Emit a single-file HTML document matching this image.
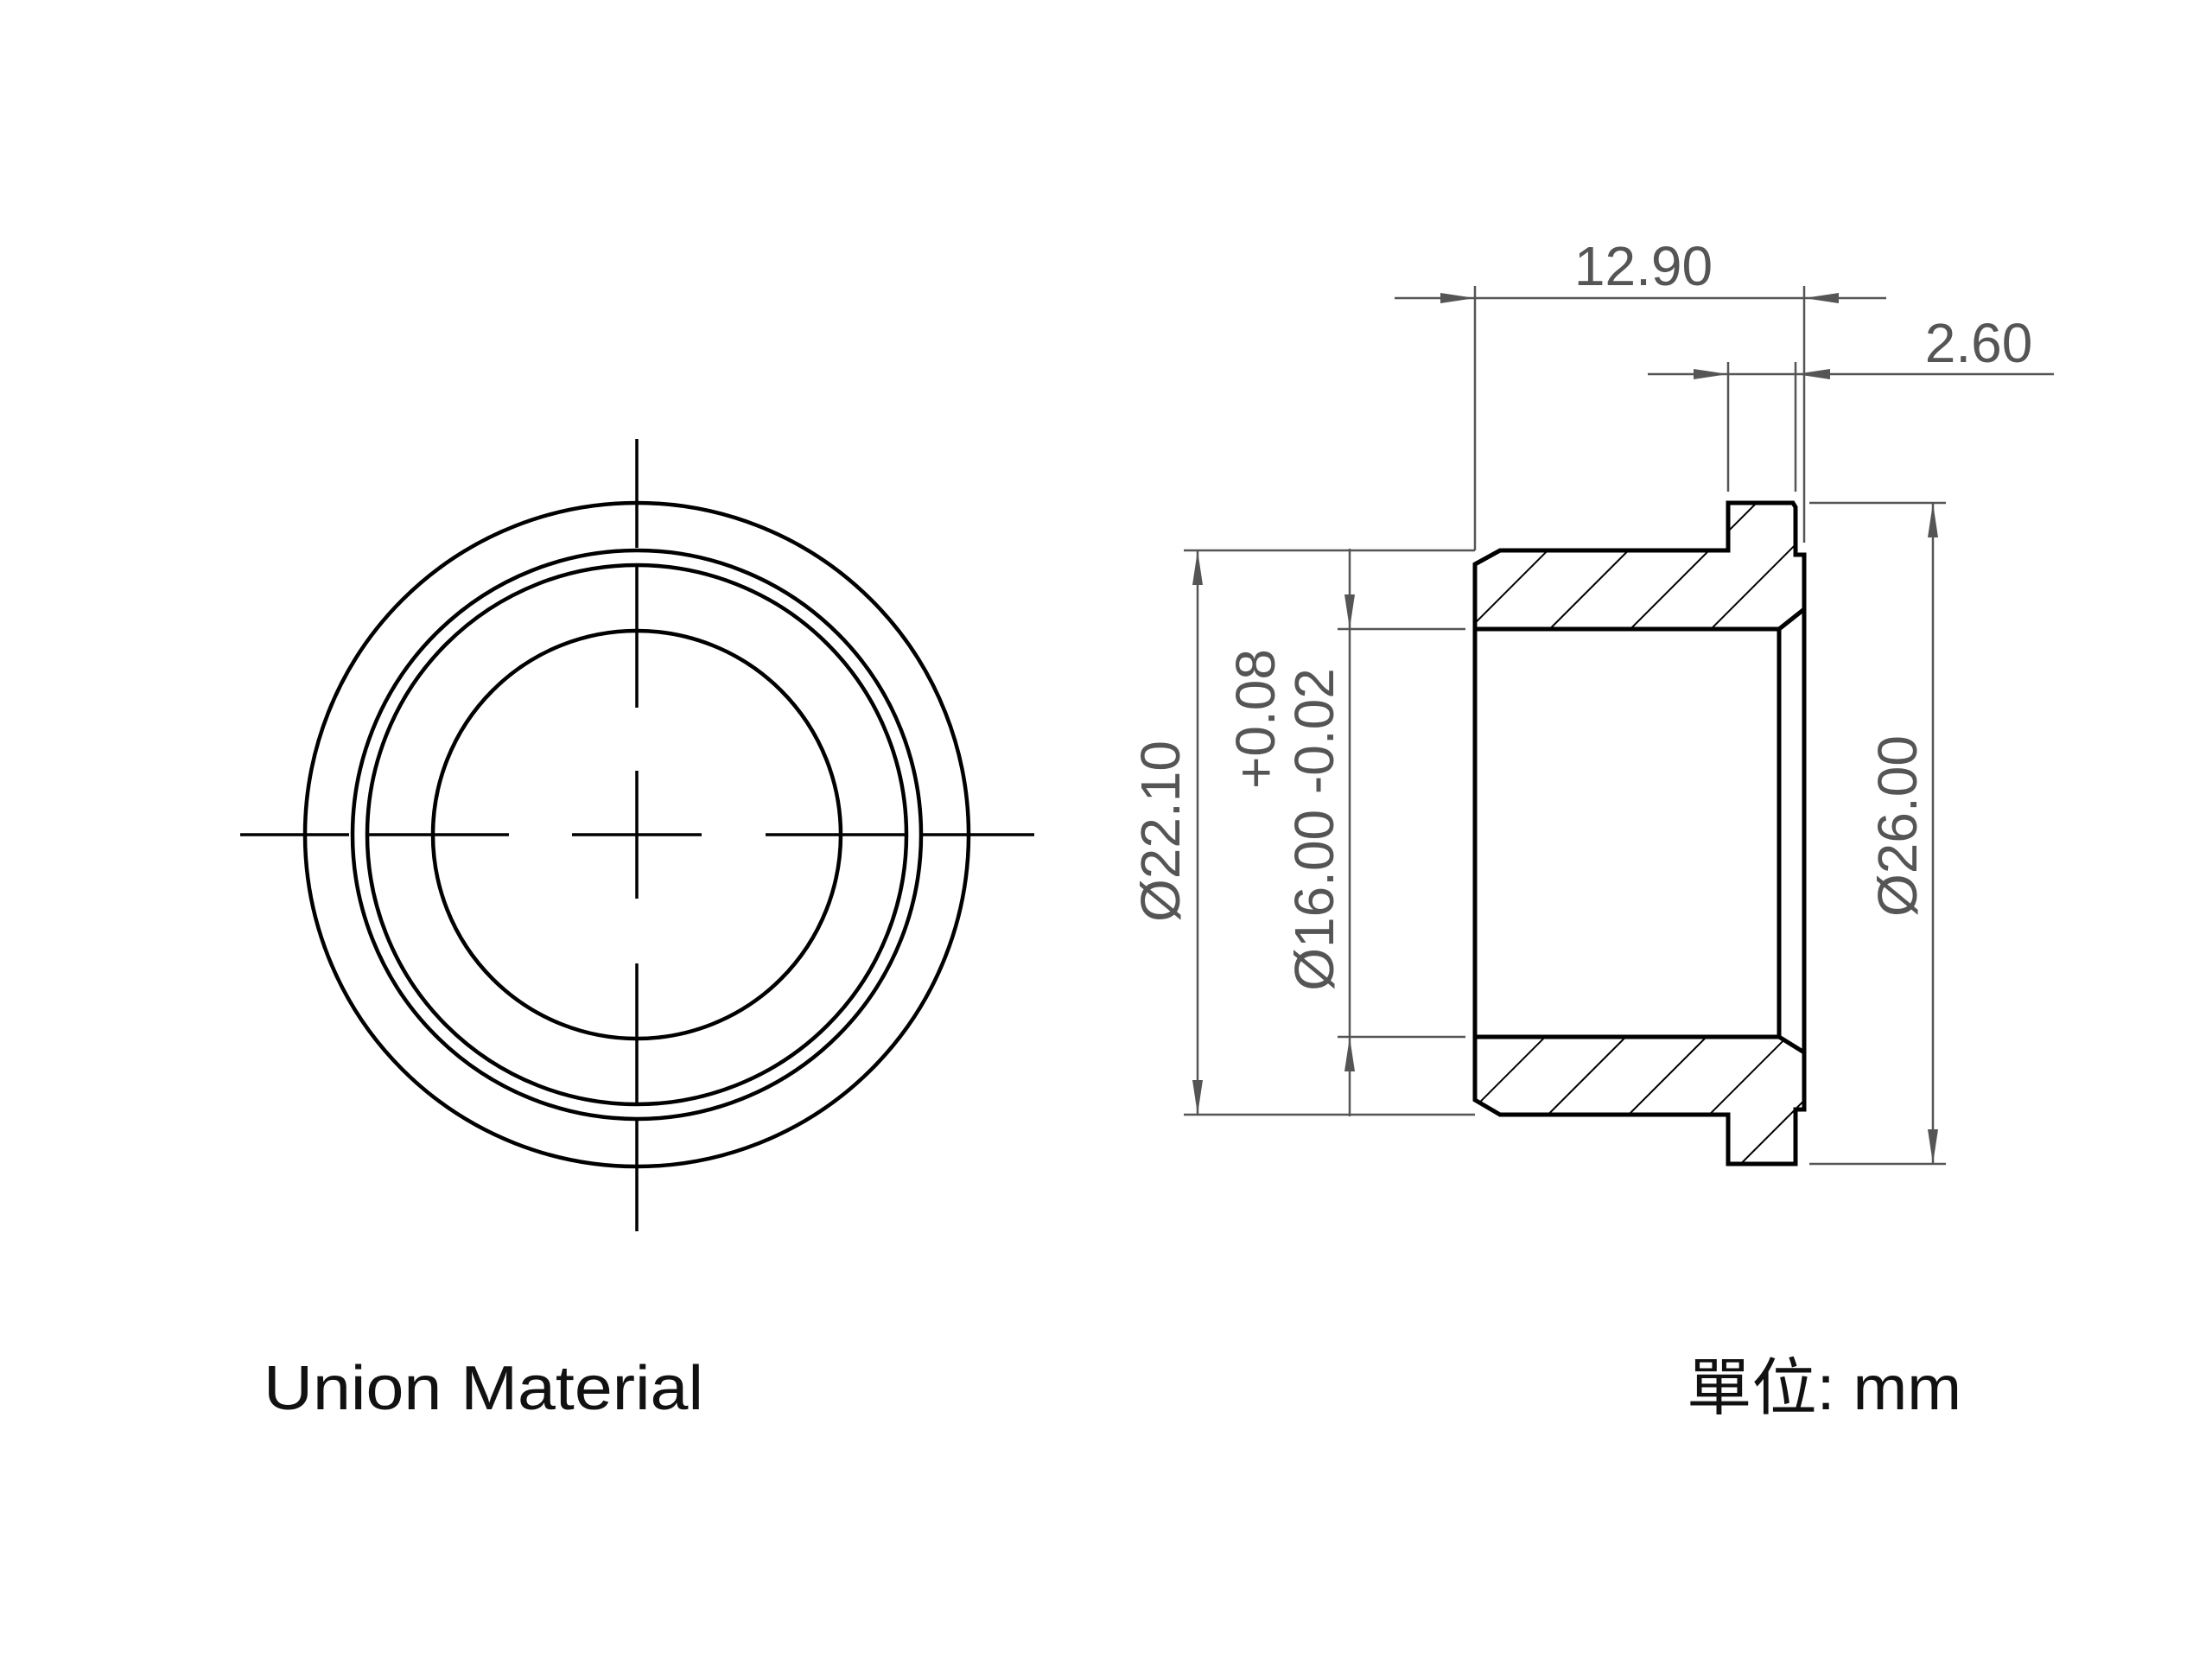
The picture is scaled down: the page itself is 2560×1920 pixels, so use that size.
<!DOCTYPE html>
<html><head><meta charset="utf-8"><style>html,body{margin:0;padding:0;background:#fff}svg{display:block}</style></head>
<body>
<svg width="2560" height="1920" viewBox="0 0 2560 1920" xmlns="http://www.w3.org/2000/svg">
<defs>
<pattern id="h" patternUnits="userSpaceOnUse" width="66" height="66" patternTransform="rotate(45)">
<line x1="0" y1="0" x2="0" y2="66" stroke="#000" stroke-width="4"/>
</pattern>
</defs>
<rect width="2560" height="1920" fill="#fff"/>
<!-- front view -->
<g fill="none" stroke="#000" stroke-width="4.5">
<circle cx="737" cy="966" r="384"/>
<circle cx="737" cy="966" r="329"/>
<circle cx="737" cy="966" r="312"/>
<circle cx="737" cy="966" r="236"/>
</g>
<g stroke="#000" stroke-width="3.5">
<line x1="278" y1="966" x2="404" y2="966"/><line x1="426" y1="966" x2="589" y2="966"/>
<line x1="662" y1="966" x2="812" y2="966"/><line x1="886" y1="966" x2="1048" y2="966"/>
<line x1="1067" y1="966" x2="1197" y2="966"/>
<line x1="737" y1="508" x2="737" y2="634"/><line x1="737" y1="656" x2="737" y2="819"/>
<line x1="737" y1="892" x2="737" y2="1040"/><line x1="737" y1="1115" x2="737" y2="1277"/>
<line x1="737" y1="1296" x2="737" y2="1425"/>
</g>
<!-- section hatch -->
<path d="M1707,653 L1736,637 L2000,637 L2000,582 L2075,582 L2078,587 L2078,642 L2088,642 L2088,705 L2059,728 L1707,728 Z" fill="url(#h)"/>
<path d="M1707,1200 L2059,1200 L2088,1218 L2088,1284 L2078,1284 L2078,1347 L2000,1347 L2000,1290 L1736,1290 L1707,1273 Z" fill="url(#h)"/>
<g fill="none" stroke="#000" stroke-width="5" stroke-linejoin="miter">
<path d="M1707,653 L1736,637 L2000,637 L2000,582 L2075,582 L2078,587 L2078,642 L2088,642 L2088,1284 L2078,1284 L2078,1347 L2000,1347 L2000,1290 L1736,1290 L1707,1273 Z"/>
<path d="M1707,728 L2059,728 L2059,1200 L1707,1200"/>
<path d="M2088,705 L2059,728"/><path d="M2059,1200 L2088,1218"/>
</g>
<!-- dimension lines -->
<g stroke="#555" stroke-width="2.5" fill="none">
<line x1="1614" y1="345" x2="2183" y2="345"/>
<line x1="1707" y1="331" x2="1707" y2="637"/>
<line x1="2088" y1="331" x2="2088" y2="628"/>
<line x1="1907" y1="433" x2="2377" y2="433"/>
<line x1="2000" y1="419" x2="2000" y2="569"/>
<line x1="2078" y1="419" x2="2078" y2="569"/>
<line x1="2094" y1="582" x2="2252" y2="582"/>
<line x1="2094" y1="1347" x2="2252" y2="1347"/>
<line x1="2237" y1="582" x2="2237" y2="1347"/>
<line x1="1370" y1="637" x2="1707" y2="637"/>
<line x1="1370" y1="1290" x2="1707" y2="1290"/>
<line x1="1386" y1="637" x2="1386" y2="1290"/>
<line x1="1548" y1="728" x2="1696" y2="728"/>
<line x1="1548" y1="1200" x2="1696" y2="1200"/>
<line x1="1562" y1="635" x2="1562" y2="1292"/>
</g>
<g fill="#555">
<polygon points="1707,345 1667,339 1667,351"/>
<polygon points="2088,345 2128,339 2128,351"/>
<polygon points="2000,433 1960,427 1960,439"/>
<polygon points="2078,433 2118,427 2118,439"/>
<polygon points="2237,582 2231,622 2243,622"/>
<polygon points="2237,1347 2231,1307 2243,1307"/>
<polygon points="1386,637 1380,677 1392,677"/>
<polygon points="1386,1290 1380,1250 1392,1250"/>
<polygon points="1562,728 1556,688 1568,688"/>
<polygon points="1562,1200 1556,1240 1568,1240"/>
</g>
<g fill="#555" font-family="Liberation Sans, sans-serif" font-size="64">
<text x="1902" y="330" text-anchor="middle">12.90</text>
<text x="2290" y="419" text-anchor="middle">2.60</text>
<text transform="translate(2218,956) rotate(-90)" text-anchor="middle">Ø26.00</text>
<text transform="translate(1365,962) rotate(-90)" text-anchor="middle">Ø22.10</text>
<text transform="translate(1543,960) rotate(-90)" text-anchor="middle">Ø16.00 -0.02</text>
<text transform="translate(1475,832) rotate(-90)" text-anchor="middle">+0.08</text>
</g>
<g fill="#111" font-family="Liberation Sans, 'Noto Sans CJK TC', sans-serif" font-size="72">
<text x="305" y="1631" textLength="509" lengthAdjust="spacingAndGlyphs">Union Material</text>
<text x="1952" y="1631" textLength="318" lengthAdjust="spacingAndGlyphs">單位: mm</text>
</g>
</svg>
</body></html>
